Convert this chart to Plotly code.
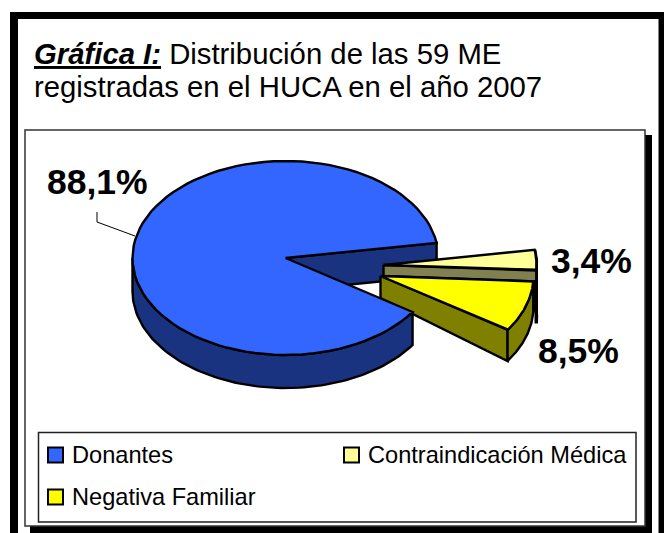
import numpy as np
import plotly.graph_objects as go

# ---- data ----
categories = ["Donantes", "Negativa Familiar", "Contraindicación Médica"]
shares = [88.1, 8.5, 3.4]
value_labels = ["88,1%", "8,5%", "3,4%"]
title_bold = "Gráfica I:"
title_line1 = " Distribución de las 59 ME"
title_line2 = "registradas en el HUCA en el año 2007"

# ---- styles / geometry ----
top_col = {"Donantes": "#3366FF", "Negativa Familiar": "#FFFF00", "Contraindicación Médica": "#FFFF99"}
side_col = {"Donantes": "#1A3380", "Negativa Familiar": "#808000", "Contraindicación Médica": "#808050"}
CX, CY, RX, RY, DEPTH = 285.5, 258.0, 153.0, 97.0, 33.0
START = 9.0
offsets = {"Donantes": (0, 0, DEPTH), "Negativa Familiar": (95, 18, 22),
           "Contraindicación Médica": (98, 7, 11)}
FONT = "Liberation Sans"
LW = 2.4


def arc(a0, a1, dx=0.0, dy=0.0):
    t = np.radians(np.linspace(a0, a1, 90))
    return CX + dx + RX * np.cos(t), CY + dy - RY * np.sin(t)


spans = {}
a = START
for c, v in zip(categories, shares):
    spans[c] = (a, a + 360.0 * v / sum(shares))
    a = spans[c][1]

fig = go.Figure()


def poly(xs, ys, col, name, lw=LW):
    fig.add_trace(go.Scatter(x=list(xs), y=list(ys), mode="lines", fill="toself", fillcolor=col,
                             line=dict(color="black", width=lw), name=name,
                             hoverinfo="skip", showlegend=False))


def top(c, dx, dy):
    a0, a1 = spans[c]
    x, y = arc(a0, a1, dx, dy)
    poly(np.r_[CX + dx, x, CX + dx], np.r_[CY + dy, y, CY + dy], top_col[c], c)


def rim(c, a0, a1, dx, dy, d, lw=LW):
    x, y = arc(a0, a1, dx, dy)
    poly(np.r_[x, x[::-1], x[0]], np.r_[y, y[::-1] + d, y[0]], side_col[c], c + " lateral", lw)


def face(c, ang, dx, dy, d_apex, d_edge):
    ex, ey = arc(ang, ang, dx, dy)
    ax, ay = CX + dx, CY + dy
    poly([ax, ex[0], ex[0], ax, ax], [ay, ey[0], ey[0] + d_edge, ay + d_apex, ay], side_col[c], c + " cara")


blue, yel, pale = categories
# inner face of the large slice
face(blue, spans[blue][0], 0, 0, DEPTH, DEPTH)
# exploded small slices
dx, dy, d = offsets[pale]
rim(pale, spans[pale][0], spans[pale][1], dx, dy, 31 + 22, lw=3.5)
face(pale, spans[pale][0] - 360, dx, dy, d, d)
top(pale, dx, dy)
dx, dy, d = offsets[yel]
face(yel, spans[yel][0] - 360, dx, dy, d, DEPTH - 2)
rim(yel, spans[yel][0], spans[yel][1], dx, dy, DEPTH - 2)
top(yel, dx, dy)
# large slice rim and top
rim(blue, 180, spans[blue][1], 0, 0, DEPTH)
top(blue, 0, 0)

# leader line of the large slice
fig.add_trace(go.Scatter(x=[97, 97, 135], y=[212, 222, 236], mode="lines",
                         line=dict(color="black", width=1), hoverinfo="skip", showlegend=False))

# legend markers
leg_pos = {blue: (55.5, 455, 70.5), pale: (351.5, 455, 366.5), yel: (55.5, 497, 70.5)}
for c in categories:
    lx, ly, _ = leg_pos[c]
    fig.add_trace(go.Scatter(x=[lx], y=[ly], mode="markers", name=c, hoverinfo="skip", showlegend=False,
                             marker=dict(symbol="square", size=15, color=top_col[c],
                                         line=dict(color="black", width=2))))


def rect(x0, y0, x1, y1, fill, line=None, lw=0):
    fig.add_shape(type="rect", x0=x0, y0=y0, x1=x1, y1=y1, fillcolor=fill, layer="below",
                  line=dict(color=line or fill, width=lw))


rect(10, 12, 664, 540, "black")
rect(18, 19, 658.5, 540, "white")
rect(30, 135, 652, 533, "black")
rect(25, 130, 645, 526, "white", "#333333", 1.5)
rect(38.5, 432.5, 636, 522, "white", "#222222", 1.5)


def txt(x, y, s, size, anchor="left"):
    fig.add_annotation(x=x, y=y, text=s, showarrow=False, xanchor=anchor, yanchor="middle", align="left",
                       borderpad=0, font=dict(family=FONT, size=size, color="black"))


txt(33, 53, f"<b><i><u>{title_bold}</u></i></b>{title_line1}", 29.3)
txt(33, 86, title_line2, 29.3)
txt(45.5, 182, f"<b>{value_labels[0]}</b>", 35.5)
txt(537, 351, f"<b>{value_labels[1]}</b>", 35.5)
txt(550, 261, f"<b>{value_labels[2]}</b>", 35.5)
for c in categories:
    _, ly, tx = leg_pos[c]
    txt(tx, ly, c, 23.6)

fig.update_layout(width=664, height=533, margin=dict(l=0, r=0, t=0, b=0), paper_bgcolor="white",
                  plot_bgcolor="white",
                  xaxis=dict(range=[0, 664], visible=False, fixedrange=True),
                  yaxis=dict(range=[533, 0], visible=False, fixedrange=True))
fig.write_html("out.html", config=dict(displayModeBar=False),
               post_script="document.body.style.margin='0';document.documentElement.style.overflow='hidden';")
